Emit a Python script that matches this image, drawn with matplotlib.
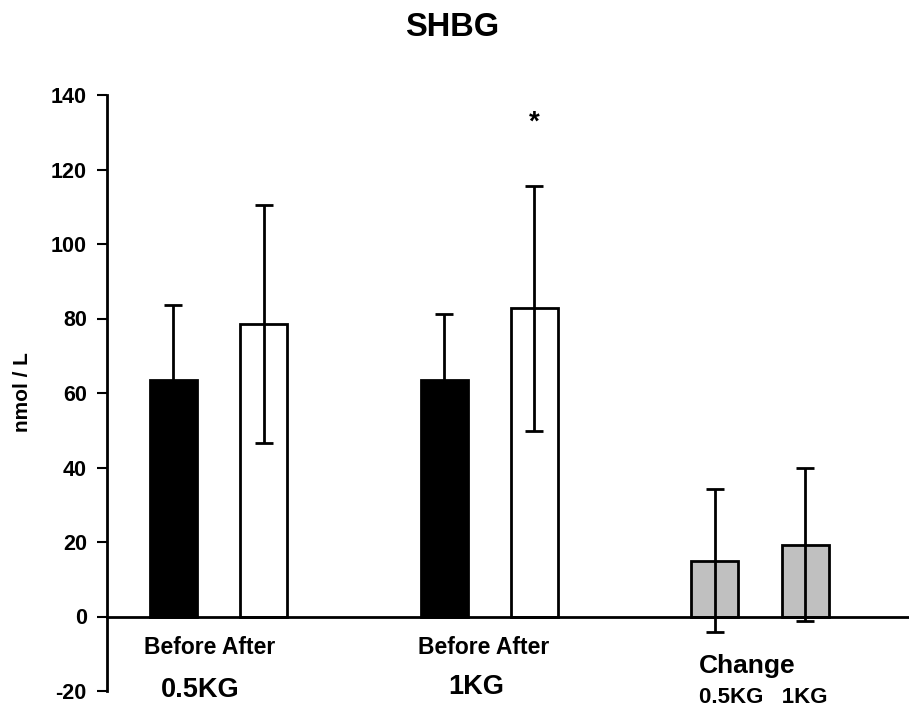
# -*- coding: utf-8 -*-
"""SHBG before / after bar chart with change bars."""

import numpy as np
import matplotlib.pyplot as plt

# Bar labels (in plotting order):
lstBars = ['Before 0.5KG', 'After 0.5KG', 'Before 1KG', 'After 1KG',
           'Change 0.5KG', 'Change 1KG']

# Mean values (nmol / L):
vecMean = np.array([63.6, 78.5, 63.6, 82.7, 15.0, 19.3])

# Standard deviations (error bars):
vecSd = np.array([19.9, 32.0, 17.6, 32.9, 19.2, 20.5])

# Category slot of each bar (slots 2 and 5 left empty as gaps):
vecSlot = np.array([0, 1, 3, 4, 6, 7])

# Fill colour of each bar:
lstFill = ['black', 'white', 'black', 'white', '#c0c0c0', '#c0c0c0']

# Y axis ticks:
vecYtck = np.arange(-20, 141, 20)

# Font:
strFont = 'Liberation Sans'

# Create main figure:
fig01 = plt.figure(figsize=(9.09, 7.13), dpi=100.0, facecolor='white')

axs01 = fig01.add_axes([107.0 / 909.0, 22.0 / 713.0,
                        802.0 / 909.0, 596.0 / 713.0])

# Bars:
axs01.bar(vecSlot, vecMean, width=0.52, color=lstFill,
          edgecolor='black', linewidth=2.0, zorder=2)

# Error bars:
axs01.errorbar(vecSlot, vecMean, yerr=vecSd, fmt='none', ecolor='black',
               elinewidth=2.0, capsize=6.5, capthick=2.0, zorder=3)

# Significance marker above 'After 1KG':
axs01.text(vecSlot[3], vecMean[3] + vecSd[3] + 17.0, '*',
           ha='center', va='center', fontsize=20, fontweight='bold',
           fontname=strFont)

# Axis limits:
axs01.set_xlim(-0.736, 8.15)
axs01.set_ylim(-20, 140)

# Spines: x axis line sits at zero, no top / right frame:
axs01.spines['top'].set_visible(False)
axs01.spines['right'].set_visible(False)
axs01.spines['bottom'].set_position(('data', 0))
axs01.spines['bottom'].set_linewidth(2.0)
axs01.spines['left'].set_linewidth(2.0)
axs01.spines['bottom'].set_zorder(4)

axs01.set_xticks([])
axs01.set_yticks(vecYtck)
axs01.set_yticklabels([str(x) for x in vecYtck], fontname=strFont,
                      fontweight='bold', fontsize=15.5)
axs01.tick_params(axis='y', direction='out', length=7.0, width=1.5,
                  pad=7.5)

# Y label and title:
fig01.text(22.0 / 909.0, 1.0 - 392.0 / 713.0, 'nmol / L', rotation=90,
           ha='center', va='center', fontname=strFont, fontweight='bold',
           fontsize=15)
fig01.text(452.0 / 909.0, 1.0 - 28.0 / 713.0, 'SHBG', ha='center',
           va='center', fontname=strFont, fontweight='bold', fontsize=23.5)

# Group labels below the x axis (x offset from pair centre, y in data):
vecPair = [(vecSlot[0] + vecSlot[1]) / 2.0,
           (vecSlot[2] + vecSlot[3]) / 2.0,
           (vecSlot[4] + vecSlot[5]) / 2.0]
lstTxt = [(vecPair[0] - 0.10, -8.3, 'Before After', 16.5),
          (vecPair[0] - 0.20, -19.6, '0.5KG', 19.5),
          (vecPair[1] - 0.06, -8.3, 'Before After', 16.5),
          (vecPair[1] - 0.15, -18.8, '1KG', 19.5),
          (vecPair[2] - 0.14, -13.4, 'Change', 19),
          (vecPair[2] + 0.03, -21.7, '0.5KG   1KG', 16)]
for varX, varY, strTxt, varSz in lstTxt:
    axs01.text(varX, varY, strTxt, ha='center', va='center',
               fontname=strFont, fontweight='bold', fontsize=varSz,
               clip_on=False)

fig01.savefig('out.png', dpi=100.0, facecolor='white')
